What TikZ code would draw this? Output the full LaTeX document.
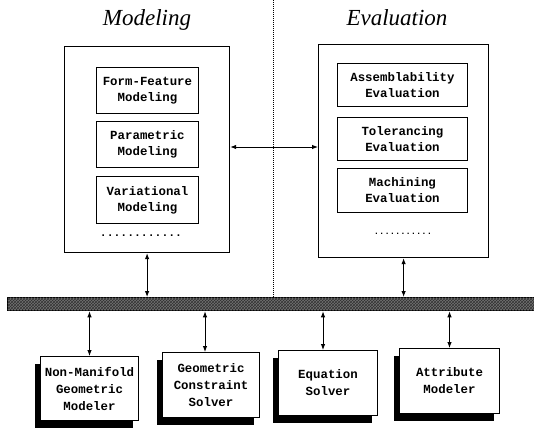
\documentclass[tikz,border=0pt]{standalone}
\usepackage{fontspec}
\setmainfont{Liberation Serif}
\setmonofont{Liberation Mono}
\usetikzlibrary{shadows,patterns,arrows.meta}
\begin{document}
\begin{tikzpicture}[x=1pt,y=-1pt,
  title/.style={font=\fontsize{23}{26}\selectfont\itshape},
  outer/.style={draw,line width=1.2pt,anchor=north west,inner sep=0pt},
  inner/.style={draw,line width=0.9pt,anchor=north west,inner sep=0pt,align=center,
    font=\ttfamily\bfseries\fontsize{12.4}{16}\selectfont},
  lower/.style={draw,line width=1pt,fill=white,anchor=north west,inner sep=0pt,align=center,
    font=\ttfamily\bfseries\fontsize{12.4}{17}\selectfont,
    drop shadow={shadow xshift=-6pt,shadow yshift=-7pt,opacity=1,fill=black}},
  dbl/.style={{Latex[length=6pt,width=4.5pt]}-{Latex[length=6pt,width=4.5pt]},line width=0.9pt},
  sep/.style={line width=1pt,dash pattern=on 1.2pt off 0.8pt}
]
\useasboundingbox (0,0) rectangle (534,428);
% titles
\node[title] (tm) at (147,20) {Modeling};
\node[title] (te) at (397,18) {Evaluation};
% outer boxes
\node[outer,minimum width=165pt,minimum height=206pt] (lm) at (64,46) {};
\node[outer,minimum width=170pt,minimum height=213pt] (re) at (318,44) {};
% inner boxes (modeling)
\node[inner,minimum width=102pt,minimum height=46pt] (m1) at (96,67) {Form-Feature\\Modeling};
\node[inner,minimum width=102pt,minimum height=46pt] (m2) at (96,121) {Parametric\\Modeling};
\node[inner,minimum width=102pt,minimum height=47pt] (m3) at (96,176) {Variational\\Modeling};
\node[font=\ttfamily\bfseries\fontsize{11.4}{12}\selectfont] (md) at (141,236) {............};
% inner boxes (evaluation)
\node[inner,minimum width=130pt,minimum height=43pt] (e1) at (337,63) {Assemblability\\Evaluation};
\node[inner,minimum width=130pt,minimum height=43pt] (e2) at (337,117) {Tolerancing\\Evaluation};
\node[inner,minimum width=130pt,minimum height=44pt] (e3) at (337,168) {Machining\\Evaluation};
\node[font=\ttfamily\bfseries\fontsize{8.8}{10}\selectfont] (ed) at (403,234) {...........};
% bar
\node[draw,line width=1.3pt,fill=black!55,anchor=north west,inner sep=0pt,
  minimum width=530pt,minimum height=13pt,
  postaction={pattern=crosshatch,pattern color=black!80}] (bar) at (7,297) {};
% separator
\coordinate (stop) at (273,0);
\draw[sep] (stop) -- (stop |- bar.north);
% lower boxes
\node[lower,minimum width=98pt,minimum height=64pt] (b1) at (40,356) {Non-Manifold\\Geometric\\Modeler};
\node[lower,minimum width=97pt,minimum height=65pt] (b2) at (162,352) {Geometric\\Constraint\\Solver};
\node[lower,minimum width=99pt,minimum height=65pt] (b3) at (278,350) {Equation\\Solver};
\node[lower,minimum width=100pt,minimum height=65pt] (b4) at (399,348) {Attribute\\Modeler};
% connectors
\draw[dbl] (lm.east |- 0,147) -- (re.west |- 0,147);
\draw[dbl] (lm.south) -- (lm.south |- bar.north);
\draw[dbl] (re.south) -- (re.south |- bar.north);
\draw[dbl] (b1.north |- bar.south) -- (b1.north);
\draw[dbl] ([xshift=-6pt]b2.north |- bar.south) -- ([xshift=-6pt]b2.north);
\draw[dbl] ([xshift=-5pt]b3.north |- bar.south) -- ([xshift=-5pt]b3.north);
\draw[dbl] (b4.north |- bar.south) -- (b4.north);
\end{tikzpicture}
\end{document}
